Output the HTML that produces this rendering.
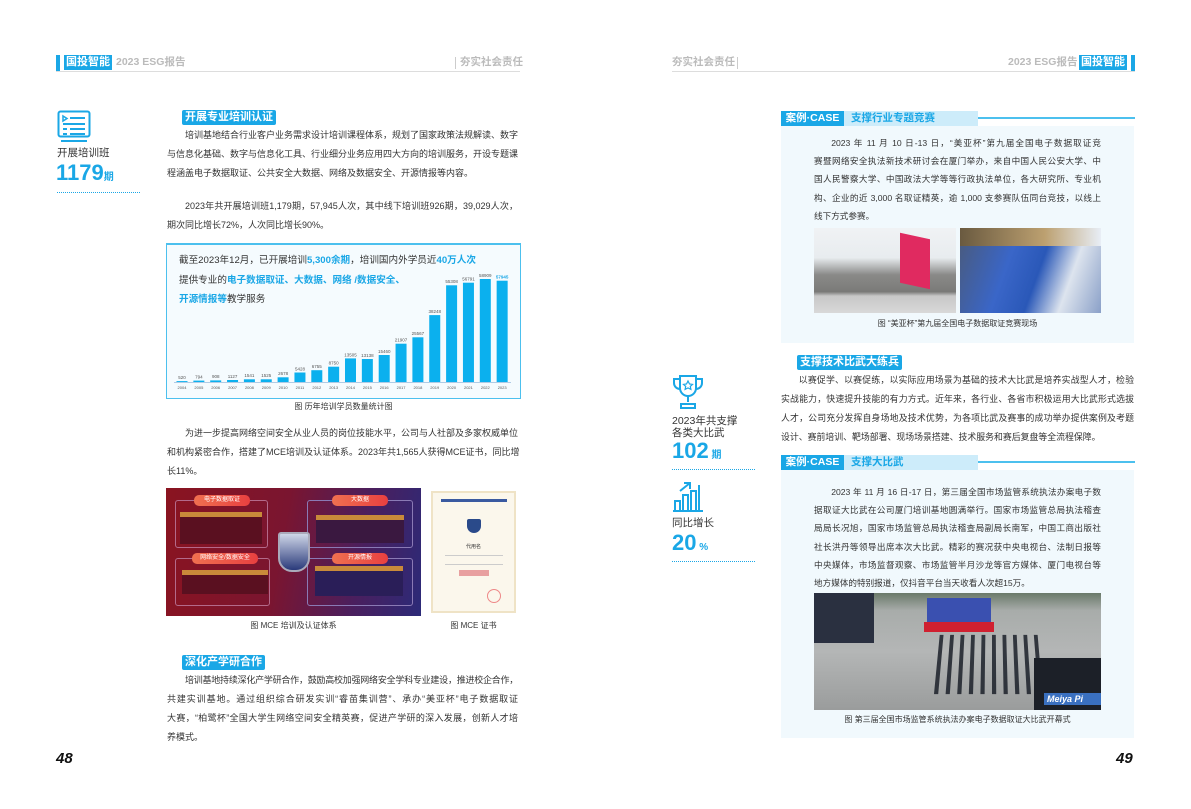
<!DOCTYPE html>
<html><head><meta charset="utf-8"><style>
*{margin:0;padding:0;box-sizing:border-box}
body{width:1191px;height:809px;background:#fff;position:relative;overflow:hidden;font-family:"Liberation Sans","Noto Sans CJK SC",sans-serif;color:#333}
.a{position:absolute}
.p{position:absolute;font-size:9px;color:#333}
.p div{height:19px;line-height:19px;white-space:nowrap;text-align:justify;text-align-last:justify;overflow:visible}
.p div.l{text-align-last:left}
.p.m{font-size:8.9px}
.p.r{font-size:8.6px}
.p.r div{height:18.2px;line-height:18.2px}
.ind{text-indent:2em}
.tt{position:absolute;background:#1aa7e6;color:#fff;font-weight:bold;font-size:11px;line-height:15px;height:15px;padding:0 3px;border-radius:2px}
.cap{position:absolute;font-size:8px;color:#333;text-align:center}
.dot{position:absolute;border-top:1px dotted #1aa7e6;height:0}
.big{position:absolute;color:#1aa7e6;font-weight:bold;font-size:22px;line-height:24px}
.big small{font-size:10px}
.side{position:absolute;font-size:10.5px;color:#333;line-height:12px}
</style></head><body>
<!-- headers -->
<div class="a" style="left:56px;top:55px;width:4px;height:16px;background:#1aa7e6"></div>
<div class="a" style="left:64px;top:55px;width:48px;height:15px;background:#1aa7e6;color:#fff;font-weight:bold;font-size:11px;line-height:15px;text-align:center">国投智能</div>
<div class="a" style="left:116px;top:55px;font-size:10.5px;font-weight:bold;color:#bbb;line-height:15px">2023 ESG报告</div>
<div class="a" style="left:455px;top:57px;width:1px;height:12px;background:#ccc"></div>
<div class="a" style="left:460px;top:55px;font-size:10.5px;font-weight:bold;color:#bbb;line-height:15px">夯实社会责任</div>
<div class="a" style="left:56px;top:71px;width:464px;height:1px;background:#ddd"></div>

<div class="a" style="left:672px;top:55px;font-size:10.5px;font-weight:bold;color:#bbb;line-height:15px">夯实社会责任</div>
<div class="a" style="left:737px;top:57px;width:1px;height:12px;background:#ccc"></div>
<div class="a" style="left:1008px;top:55px;font-size:10.5px;font-weight:bold;color:#bbb;line-height:15px">2023 ESG报告</div>
<div class="a" style="left:1079px;top:55px;width:48px;height:15px;background:#1aa7e6;color:#fff;font-weight:bold;font-size:11px;line-height:15px;text-align:center">国投智能</div>
<div class="a" style="left:1131px;top:55px;width:4px;height:16px;background:#1aa7e6"></div>
<div class="a" style="left:672px;top:71px;width:463px;height:1px;background:#ddd"></div>

<!-- left sidebar -->
<svg class="a" style="left:57px;top:110px" width="34" height="34" viewBox="0 0 34 34"><rect x="1.5" y="1.5" width="31" height="25" rx="2" fill="none" stroke="#1aa7e6" stroke-width="2"/><path d="M6 6 l4 2.5 -4 2.5z" fill="none" stroke="#1aa7e6" stroke-width="1.5"/><path d="M13 8h15M6 14h22M6 19h4M13 19h15M6 24h4M13 24h15M4 31h26" stroke="#1aa7e6" stroke-width="2"/></svg>
<div class="side" style="left:57px;top:147px">开展培训班</div>
<div class="big" style="left:56px;top:161px">1179<small>期</small></div>
<div class="dot" style="left:57px;top:192px;width:83px"></div>

<!-- section 1 -->
<div class="tt" style="left:182px;top:110px">开展专业培训认证</div>
<div class="p" style="left:167px;top:125.5px;width:351px">
<div class="ind">培训基地结合行业客户业务需求设计培训课程体系，规划了国家政策法规解读、数字</div>
<div>与信息化基础、数字与信息化工具、行业细分业务应用四大方向的培训服务，开设专题课</div>
<div class="l">程涵盖电子数据取证、公共安全大数据、网络及数据安全、开源情报等内容。</div>
</div>
<div class="p" style="left:167px;top:196.5px;width:351px">
<div class="ind">2023年共开展培训班1,179期，57,945人次，其中线下培训班926期，39,029人次，</div>
<div class="l">期次同比增长72%，人次同比增长90%。</div>
</div>

<!-- chart -->
<div class="a" style="left:166px;top:243px;width:355px;height:156px;border:1.5px solid #4cc0ee;background:#f5fbfe"></div>
<div class="a" style="left:166px;top:243px;width:355px;height:2px;background:#4cc0ee"></div>
<div class="a" style="left:179px;top:251px;font-size:9.6px;line-height:19.5px;color:#333;white-space:nowrap">截至2023年12月，已开展培训<b style="color:#1aa7e6">5,300余期</b>，培训国内外学员近<b style="color:#1aa7e6">40万人次</b><br>提供专业的<b style="color:#1aa7e6">电子数据取证、大数据、网络 /数据安全、</b><br><b style="color:#1aa7e6">开源情报等</b>教学服务</div>
<svg class="a" style="left:166px;top:244px" width="355" height="155" viewBox="0 0 355 155" font-family="Liberation Sans" font-size="4.5" fill="#555" text-anchor="middle">
<line x1="8" y1="138.5" x2="345" y2="138.5" stroke="#9bd" stroke-width="0.8"/>
<g fill="#0bb0ee">
<rect x="10.5" y="137.1" width="11" height="0.9"/><rect x="27.35" y="136.6" width="11" height="1.4"/><rect x="44.2" y="136.4" width="11" height="1.6"/><rect x="61.05" y="136" width="11" height="2"/><rect x="77.9" y="135.3" width="11" height="2.7"/><rect x="94.75" y="135.3" width="11" height="2.7"/><rect x="111.6" y="133.3" width="11" height="4.7"/><rect x="128.45" y="128.5" width="11" height="9.5"/><rect x="145.3" y="126.2" width="11" height="11.8"/><rect x="162.15" y="122.7" width="11" height="15.3"/><rect x="179" y="114.4" width="11" height="23.6"/><rect x="195.85" y="115" width="11" height="23"/><rect x="212.7" y="111" width="11" height="27"/><rect x="229.55" y="99.7" width="11" height="38.3"/><rect x="246.4" y="93.3" width="11" height="44.7"/><rect x="263.25" y="71.1" width="11" height="66.9"/><rect x="280.1" y="41.3" width="11" height="96.7"/><rect x="296.95" y="38.7" width="11" height="99.3"/><rect x="313.8" y="35" width="11" height="103"/><rect x="330.65" y="36.7" width="11" height="101.3"/>
</g>
<g><text x="16" y="135">520</text><text x="32.85" y="134.5">794</text><text x="49.7" y="134">908</text><text x="66.55" y="134">1127</text><text x="83.4" y="133">1541</text><text x="100.25" y="133">1525</text><text x="117.1" y="131">2678</text><text x="133.95" y="126.5">5428</text><text x="150.8" y="124">6755</text><text x="167.65" y="120.5">8750</text><text x="184.5" y="112.5">13505</text><text x="201.35" y="113">13138</text><text x="218.2" y="109">15460</text><text x="235.05" y="97.5">21907</text><text x="251.9" y="91">25567</text><text x="268.75" y="69">38248</text><text x="285.6" y="39">55308</text><text x="302.45" y="36.5">56791</text><text x="319.3" y="33">58909</text><text x="336.15" y="34.5" fill="#1aa7e6" font-weight="bold">57945</text></g>
<g font-size="4"><text x="16" y="145">2004</text><text x="32.85" y="145">2005</text><text x="49.7" y="145">2006</text><text x="66.55" y="145">2007</text><text x="83.4" y="145">2008</text><text x="100.25" y="145">2009</text><text x="117.1" y="145">2010</text><text x="133.95" y="145">2011</text><text x="150.8" y="145">2012</text><text x="167.65" y="145">2013</text><text x="184.5" y="145">2014</text><text x="201.35" y="145">2015</text><text x="218.2" y="145">2016</text><text x="235.05" y="145">2017</text><text x="251.9" y="145">2018</text><text x="268.75" y="145">2019</text><text x="285.6" y="145">2020</text><text x="302.45" y="145">2021</text><text x="319.3" y="145">2022</text><text x="336.15" y="145">2023</text></g>
</svg>
<div class="cap" style="left:166px;top:401px;width:355px">图 历年培训学员数量统计图</div>

<div class="p" style="left:167px;top:423.5px;width:351px">
<div class="ind">为进一步提高网络空间安全从业人员的岗位技能水平，公司与人社部及多家权威单位</div>
<div>和机构紧密合作，搭建了MCE培训及认证体系。2023年共1,565人获得MCE证书，同比增</div>
<div class="l">长11%。</div>
</div>

<!-- MCE image -->
<div class="a" style="left:166px;top:488px;width:255px;height:128px;background:linear-gradient(100deg,#8a1420 0%,#7a1530 45%,#4a1f5e 75%,#2c2a78 100%);overflow:hidden">
<div class="a" style="left:9px;top:12px;width:93px;height:48px;border:1px solid #b46a8a;border-radius:3px"></div>
<div class="a" style="left:141px;top:12px;width:106px;height:48px;border:1px solid #8a7ab5;border-radius:3px"></div>
<div class="a" style="left:9px;top:70px;width:95px;height:48px;border:1px solid #b46a8a;border-radius:3px"></div>
<div class="a" style="left:141px;top:70px;width:106px;height:48px;border:1px solid #8a7ab5;border-radius:3px"></div>
<div class="a" style="left:28px;top:7px;width:56px;height:11px;background:linear-gradient(90deg,#f07050,#e84040);border-radius:5px;color:#fff;font-size:6px;line-height:11px;text-align:center">电子数据取证</div>
<div class="a" style="left:166px;top:7px;width:56px;height:11px;background:linear-gradient(90deg,#f07050,#e84040);border-radius:5px;color:#fff;font-size:6px;line-height:11px;text-align:center">大数据</div>
<div class="a" style="left:26px;top:65px;width:66px;height:11px;background:linear-gradient(90deg,#f07050,#e84040);border-radius:5px;color:#fff;font-size:6px;line-height:11px;text-align:center">网络安全/数据安全</div>
<div class="a" style="left:166px;top:65px;width:56px;height:11px;background:linear-gradient(90deg,#f07050,#e84040);border-radius:5px;color:#fff;font-size:6px;line-height:11px;text-align:center">开源情报</div>
<div class="a" style="left:14px;top:24px;width:82px;height:32px;background:#5a1020;border-top:5px solid #c98a3a"></div>
<div class="a" style="left:150px;top:27px;width:88px;height:28px;background:#3a1840;border-top:5px solid #c98a3a"></div>
<div class="a" style="left:16px;top:82px;width:86px;height:24px;background:#5a1020;border-top:5px solid #c98a3a"></div>
<div class="a" style="left:149px;top:78px;width:88px;height:30px;background:#2a1e58;border-top:5px solid #c98a3a"></div>
<div class="a" style="left:112px;top:44px;width:32px;height:40px;background:linear-gradient(#cfd6e8,#2a3a7a);border:2px solid #aab;border-radius:3px 3px 14px 14px"></div>
</div>
<div class="a" style="left:431px;top:491px;width:85px;height:122px;background:#fbf7ec;border:2px solid #efe3c6">
<div class="a" style="left:8px;top:6px;width:66px;height:3px;background:#3a5aa0"></div>
<div class="a" style="left:34px;top:26px;width:14px;height:14px;background:#2a4a8a;border-radius:2px 2px 7px 7px"></div>
<div class="a" style="left:0;top:50px;width:81px;text-align:center;font-size:5px;color:#333">代用名</div>
<div class="a" style="left:12px;top:62px;width:58px;height:10px;border-top:1px solid #ccc;border-bottom:1px solid #ccc"></div>
<div class="a" style="left:26px;top:77px;width:30px;height:6px;background:#e8a0a0"></div>
<div class="a" style="left:54px;top:96px;width:14px;height:14px;border-radius:50%;border:1px solid #e88"></div>
</div>
<div class="cap" style="left:166px;top:620px;width:255px">图 MCE 培训及认证体系</div>
<div class="cap" style="left:431px;top:620px;width:85px">图 MCE 证书</div>

<div class="tt" style="left:182px;top:655px">深化产学研合作</div>
<div class="p" style="left:167px;top:670.5px;width:351px">
<div class="ind" style="letter-spacing:-0.3px">培训基地持续深化产学研合作，鼓励高校加强网络安全学科专业建设，推进校企合作，</div>
<div>共建实训基地。通过组织综合研发实训“睿苗集训营”、承办“美亚杯”电子数据取证</div>
<div>大赛，“柏鹭杯”全国大学生网络空间安全精英赛，促进产学研的深入发展，创新人才培</div>
<div class="l">养模式。</div>
</div>
<div class="a" style="left:56px;top:750px;font-size:15px;font-weight:bold;font-style:italic;color:#111">48</div>
<div class="a" style="left:1116px;top:750px;font-size:15px;font-weight:bold;font-style:italic;color:#111">49</div>

<!-- right case 1 -->
<div class="a" style="left:781px;top:126px;width:353px;height:217px;background:#f1f9fd"></div>
<div class="a" style="left:978px;top:117px;width:157px;height:1.5px;background:#4cc0ee"></div>
<div class="a" style="left:781px;top:111px;width:63px;height:15px;background:#1aa7e6;color:#fff;font-weight:bold;font-size:10.5px;line-height:15px;text-align:center">案例·CASE</div>
<div class="a" style="left:844px;top:111px;width:134px;height:15px;background:#cdecfa;color:#1aa7e6;font-weight:bold;font-size:10.5px;line-height:15px;padding-left:7px">支撑行业专题竞赛</div>
<div class="p r" style="left:814px;top:134px;width:287px">
<div class="ind">2023 年 11 月 10 日-13 日，“美亚杯”第九届全国电子数据取证竞</div>
<div>赛暨网络安全执法新技术研讨会在厦门举办，来自中国人民公安大学、中</div>
<div>国人民警察大学、中国政法大学等等行政执法单位，各大研究所、专业机</div>
<div>构、企业的近 3,000 名取证精英，逾 1,000 支参赛队伍同台竞技，以线上</div>
<div class="l">线下方式参赛。</div>
</div>
<div class="a" style="left:814px;top:228px;width:142px;height:85px;background:linear-gradient(#f0f2f4 0%,#e8ecef 35%,#8a8a88 55%,#7a7a78 75%,#c8c8c8 80%,#d8d8d8 100%)">
<div class="a" style="left:86px;top:8px;width:30px;height:50px;background:#e02a60;transform:skewY(12deg)"></div></div>
<div class="a" style="left:960px;top:228px;width:141px;height:85px;background:linear-gradient(110deg,#4a5a7a 0%,#3a66c8 35%,#2a58b8 55%,#dde4ee 75%,#8aa0c8 100%)">
<div class="a" style="left:0;top:0;width:141px;height:18px;background:linear-gradient(90deg,#6a5a40,#bca070 60%,#e8eef6)"></div></div>
<div class="cap" style="left:781px;top:318px;width:353px">图 “美亚杯”第九届全国电子数据取证竞赛现场</div>

<!-- right sidebar -->
<svg class="a" style="left:671px;top:374px" width="34" height="36" viewBox="0 0 34 36" fill="none" stroke="#1aa7e6" stroke-width="2"><path d="M9 2h16v12a8 8 0 0 1-16 0z"/><path d="M9 5H3v4a6 6 0 0 0 6 6M25 5h6v4a6 6 0 0 1-6 6"/><path d="M17 22v6M10 30h14v4H10z"/><path d="M17 7l1.5 3 3 .4-2.2 2 .6 3-2.9-1.5-2.9 1.5.6-3-2.2-2 3-.4z" stroke-width="1.2"/></svg>
<div class="side" style="left:672px;top:415px">2023年共支撑<br>各类大比武</div>
<div class="big" style="left:672px;top:439px">102<small> 期</small></div>
<div class="dot" style="left:672px;top:469px;width:83px"></div>
<svg class="a" style="left:671px;top:479px" width="34" height="34" viewBox="0 0 34 34" fill="none" stroke="#1aa7e6" stroke-width="2"><path d="M2 32h30M4 32V22h5v10M12 32V16h5v16M20 32V12h5v20M28 32V6"/><path d="M9 12l10-8M13 4h6v6"/></svg>
<div class="side" style="left:672px;top:517px">同比增长</div>
<div class="big" style="left:672px;top:531px">20<small> %</small></div>
<div class="dot" style="left:672px;top:561px;width:83px"></div>

<div class="tt" style="left:797px;top:355px">支撑技术比武大练兵</div>
<div class="p m" style="left:781px;top:370.5px;width:353px">
<div class="ind">以赛促学、以赛促练，以实际应用场景为基础的技术大比武是培养实战型人才，检验</div>
<div>实战能力，快速提升技能的有力方式。近年来，各行业、各省市积极运用大比武形式选拔</div>
<div>人才，公司充分发挥自身场地及技术优势，为各项比武及赛事的成功举办提供案例及考题</div>
<div class="l">设计、赛前培训、靶场部署、现场场景搭建、技术服务和赛后复盘等全流程保障。</div>
</div>

<!-- case 2 -->
<div class="a" style="left:781px;top:470px;width:353px;height:268px;background:#f1f9fd"></div>
<div class="a" style="left:978px;top:461px;width:157px;height:1.5px;background:#4cc0ee"></div>
<div class="a" style="left:781px;top:455px;width:63px;height:15px;background:#1aa7e6;color:#fff;font-weight:bold;font-size:10.5px;line-height:15px;text-align:center">案例·CASE</div>
<div class="a" style="left:844px;top:455px;width:134px;height:15px;background:#cdecfa;color:#1aa7e6;font-weight:bold;font-size:10.5px;line-height:15px;padding-left:7px">支撑大比武</div>
<div class="p r" style="left:814px;top:483px;width:287px">
<div class="ind">2023 年 11 月 16 日-17 日，第三届全国市场监管系统执法办案电子数</div>
<div>据取证大比武在公司厦门培训基地圆满举行。国家市场监管总局执法稽查</div>
<div>局局长况旭，国家市场监管总局执法稽查局副局长南军，中国工商出版社</div>
<div>社长洪丹等领导出席本次大比武。精彩的赛况获中央电视台、法制日报等</div>
<div>中央媒体，市场监督观察、市场监管半月沙龙等官方媒体、厦门电视台等</div>
<div class="l">地方媒体的特别报道，仅抖音平台当天收看人次超15万。</div>
</div>
<div class="a" style="left:814px;top:593px;width:287px;height:117px;background:linear-gradient(#6a7a6a 0%,#a8acaa 15%,#b4b6b6 50%,#9a9c9c 100%);overflow:hidden">
<div class="a" style="left:0;top:0;width:60px;height:50px;background:#2a3040"></div>
<div class="a" style="left:113px;top:5px;width:64px;height:24px;background:#3a50b0"></div>
<div class="a" style="left:110px;top:29px;width:70px;height:10px;background:#d02030"></div>
<div class="a" style="left:123px;top:40px;width:110px;height:60px;background:repeating-linear-gradient(90deg,#1a1e28 0 4px,transparent 4px 11px);transform:perspective(100px) rotateX(10deg);opacity:.85"></div>
<div class="a" style="left:220px;top:65px;width:67px;height:52px;background:#1c2028"></div>
<div class="a" style="left:230px;top:100px;width:57px;height:12px;background:#3a70c0;color:#fff;font-size:9px;font-weight:bold;font-style:italic;line-height:12px;padding-left:3px">Meiya Pi</div>
</div>
<div class="cap" style="left:781px;top:714px;width:353px">图 第三届全国市场监管系统执法办案电子数据取证大比武开幕式</div>
</body></html>
